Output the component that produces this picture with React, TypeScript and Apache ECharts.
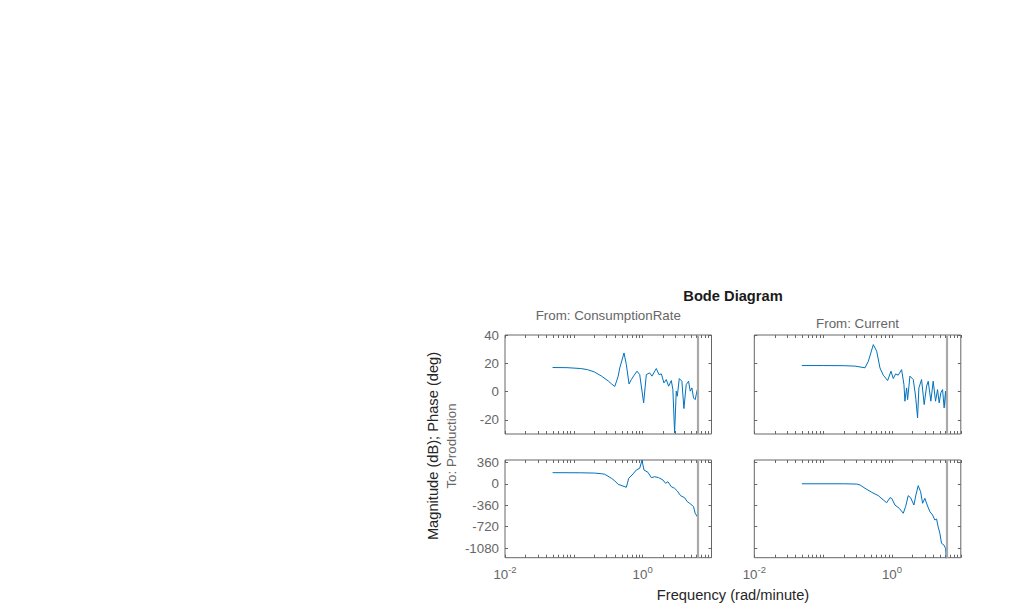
import React, { useEffect, useRef } from 'react';
import * as echarts from 'echarts';

const FONT = '"Liberation Sans", Arial, Helvetica, sans-serif';

// ---- Data (frequency in rad/minute) ----
const magConsumptionFreq = [0.0491, 0.0794, 0.126, 0.158, 0.2, 0.251, 0.316, 0.352, 0.393, 0.439, 0.465, 0.536, 0.579, 0.634, 0.685, 0.75, 0.828, 0.906, 1.033, 1.13, 1.262, 1.365, 1.578, 1.722, 1.87, 2.037, 2.203, 2.382, 2.606, 2.748, 2.911, 3.076, 3.184, 3.404, 3.715, 3.972, 4.295, 4.645, 4.909, 5.188, 5.483, 5.794, 6.209];
const magConsumptionDb = [17.0, 16.9, 16.3, 15.5, 13.8, 11.0, 7.5, 5.5, 3.6, 10.5, 16.7, 27.3, 19.1, 5.4, 8.5, 11.5, 14.4, 12.0, -8.0, 12.0, 13.2, 10.9, 16.3, 12.0, 12.5, 6.1, 8.5, 3.8, 7.8, 1.4, -29.2, 0.3, -3.3, 9.2, 7.3, -12.0, 5.0, 7.3, 0.3, 2.6, -4.5, -5.7, 1.4];

const magCurrentFreq = [0.0491, 0.1, 0.2, 0.291, 0.406, 0.454, 0.536, 0.6, 0.67, 0.748, 0.865, 0.968, 1.045, 1.13, 1.233, 1.38, 1.493, 1.542, 1.633, 1.687, 1.824, 2.037, 2.153, 2.228, 2.355, 2.46, 2.692, 2.938, 3.184, 3.365, 3.673, 3.972, 4.295, 4.592, 4.853, 5.129, 5.433, 5.728, 5.998, 6.209];
const magCurrentDb = [18.4, 18.4, 18.3, 18.0, 16.8, 21.5, 33.2, 28.5, 16.7, 11.6, 7.8, 14.4, 9.2, 12.5, 11.6, 15.5, 5.0, -6.8, 2.6, -5.7, 10.9, 8.5, 0.3, -5.7, -18.6, 2.6, 8.5, -9.2, 3.8, 7.3, -6.8, 7.3, -6.8, 1.4, -8.0, -0.9, 1.4, -11.5, 0.3, -12.7];

const phaseConsumptionFreq = [0.0491, 0.126, 0.2, 0.25, 0.281, 0.352, 0.393, 0.439, 0.579, 0.627, 0.724, 0.809, 0.906, 0.977, 1.045, 1.194, 1.337, 1.493, 1.706, 1.968, 2.153, 2.328, 2.606, 2.911, 3.184, 3.556, 4.064, 4.446, 4.797, 5.188, 5.483, 5.794, 6.209];
const phaseConsumptionDeg = [187, 185, 180, 170, 160, 92, 50, -8, -59, 92, 165, 232, 261, 395, 232, 193, 103, 119, 103, 64, 8, 35, -49, -76, -121, -200, -234, -301, -328, -357, -385, -496, -553];

const phaseCurrentFreq = [0.0491, 0.2, 0.307, 0.344, 0.406, 0.508, 0.634, 0.748, 0.838, 0.935, 0.991, 1.104, 1.276, 1.459, 1.578, 1.722, 1.866, 2.084, 2.228, 2.404, 2.606, 2.786, 3.006, 3.251, 3.556, 3.89, 4.198, 4.446, 4.688, 4.966, 5.248, 5.675, 5.998, 6.209];
const phaseCurrentDeg = [0, 0, -5, -20, -76, -143, -200, -272, -318, -234, -244, -357, -412, -496, -385, -200, -234, -357, -188, -32, -133, -328, -244, -357, -469, -525, -609, -592, -722, -833, -1001, -1029, -1085, -1290];

const nyquistFrequency = 6.2832;

// ---- Ticks / labels ----
const magTicks = [-20, 0, 20, 40];
const phaseTicks = [-1080, -720, -360, 0, 360];
const xTickValues = [0.01, 0.02, 0.03, 0.04, 0.05, 0.06, 0.07, 0.08, 0.09, 0.1, 0.2, 0.3, 0.4, 0.5, 0.6, 0.7, 0.8, 0.9, 1, 2, 3, 4, 5, 6, 7, 8, 9, 10];
const xLabelValues = [0.01, 1];
const inputNames = ['ConsumptionRate', 'Current'];
const outputName = 'Production';

const AXIS_COLOR = '#666666';
const LINE_COLOR = '#0072BD';

const GRID_LEFTS = [505, 754.3];
const GRID_TOPS = [335, 460];
const GRID_W = 206.5;
const GRID_HS = [99, 97.7];

export default function App() {
  const ref = useRef<HTMLDivElement>(null);

  useEffect(() => {
    if (!ref.current) return;
    const chart = echarts.init(ref.current, undefined, { renderer: 'svg' });

    const grids: any[] = [];
    const xAxes: any[] = [];
    const yAxes: any[] = [];
    const series: any[] = [];

    const panels = [
      { row: 0, col: 0, f: magConsumptionFreq, v: magConsumptionDb },
      { row: 0, col: 1, f: magCurrentFreq, v: magCurrentDb },
      { row: 1, col: 0, f: phaseConsumptionFreq, v: phaseConsumptionDeg },
      { row: 1, col: 1, f: phaseCurrentFreq, v: phaseCurrentDeg },
    ];

    panels.forEach((p, g) => {
      grids.push({
        left: GRID_LEFTS[p.col],
        top: GRID_TOPS[p.row],
        width: GRID_W,
        height: GRID_HS[p.row],
        show: true,
        borderColor: AXIS_COLOR,
        borderWidth: 1,
        backgroundColor: '#ffffff',
        containLabel: false,
        outerBoundsMode: 'none',
      });
      const isPhase = p.row === 1;
      const yMin = isPhase ? -1243 : -30;
      const yMax = isPhase ? 400 : 40;
      const yTicks = isPhase ? phaseTicks : magTicks;

      ['bottom', 'top'].forEach((pos) => {
        const showLabel = pos === 'bottom' && isPhase;
        xAxes.push({
          type: 'log',
          logBase: 10,
          gridIndex: g,
          position: pos,
          min: 0.01,
          max: 10,
          axisLine: { show: false, onZero: false },
          splitLine: { show: false },
          minorTick: { show: false },
          axisTick: {
            show: true,
            inside: true,
            length: 3,
            customValues: xTickValues,
            lineStyle: { color: AXIS_COLOR, width: 1 },
          },
          axisLabel: {
            show: showLabel,
            customValues: xLabelValues,
            margin: 7,
            formatter: (val: number) => {
              const e = Math.round(Math.log10(val));
              return `{b|10}{s|${e}}`;
            },
            rich: {
              b: { fontSize: 13.33, fontFamily: FONT, color: AXIS_COLOR, lineHeight: 16, verticalAlign: 'bottom' },
              s: { fontSize: 9.5, fontFamily: FONT, color: AXIS_COLOR, lineHeight: 9, verticalAlign: 'top' },
            },
          },
        });
      });
      ['left', 'right'].forEach((pos) => {
        yAxes.push({
          type: 'value',
          gridIndex: g,
          position: pos,
          min: yMin,
          max: yMax,
          axisLine: { show: false, onZero: false },
          splitLine: { show: false },
          axisTick: {
            show: true,
            inside: true,
            length: 3,
            customValues: yTicks,
            lineStyle: { color: AXIS_COLOR, width: 1 },
          },
          axisLabel: {
            show: pos === 'left' && p.col === 0,
            customValues: yTicks,
            margin: 6,
            fontSize: 13.33,
            fontFamily: FONT,
            color: AXIS_COLOR,
            formatter: (v: number) => String(v),
          },
        });
      });

      series.push({
        type: 'line',
        xAxisIndex: g * 2,
        yAxisIndex: g * 2,
        data: p.f.map((f, i) => [f, p.v[i]]),
        symbol: 'none',
        showSymbol: false,
        smooth: false,
        clip: true,
        lineStyle: { color: LINE_COLOR, width: 1 },
        itemStyle: { color: LINE_COLOR },
        markLine: {
          silent: true,
          symbol: ['none', 'none'],
          label: { show: false },
          lineStyle: { color: '#a9a9a9', width: 2.2, type: 'solid' },
          data: [{ xAxis: nyquistFrequency }],
        },
      });
    });

    const txt = (text: string, x: number, y: number, size: number, color: string, extra: any = {}) => ({
      type: 'text',
      x,
      y,
      rotation: extra.rotation || 0,
      style: {
        text,
        fontSize: size,
        fontFamily: FONT,
        fontWeight: extra.bold ? 'bold' : 'normal',
        fill: color,
        align: 'center',
        verticalAlign: 'middle',
        textAlign: 'center',
        textVerticalAlign: 'middle',
      },
    });

    const colCenters = GRID_LEFTS.map((l) => l + GRID_W / 2);

    chart.setOption({
      animation: false,
      backgroundColor: '#ffffff',
      grid: grids,
      xAxis: xAxes,
      yAxis: yAxes,
      series,
      graphic: [
        txt('Bode Diagram', 733, 296, 14.67, '#1a1a1a', { bold: true }),
        txt('From: ' + inputNames[0], colCenters[0], 315.5, 13.33, AXIS_COLOR),
        txt('From: ' + inputNames[1], colCenters[1], 323, 13.33, AXIS_COLOR),
        txt('Magnitude (dB); Phase (deg)', 432.5, 446, 14.67, '#262626', { rotation: Math.PI / 2 }),
        txt('To: ' + outputName, 451.5, 446, 13.33, AXIS_COLOR, { rotation: Math.PI / 2 }),
        txt('Frequency (rad/minute)', 733, 595, 14.67, '#262626'),
      ],
    });

    return () => chart.dispose();
  }, []);

  return (
    <div
      ref={ref}
      style={{ position: 'fixed', left: 0, top: 0, width: 1018, height: 613, background: '#ffffff' }}
    />
  );
}
